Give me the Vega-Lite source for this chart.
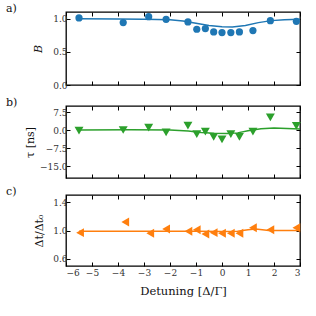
{
  "$schema": "https://vega.github.io/schema/vega-lite/v6.json",
  "padding": {"left": 5, "top": 1, "right": 17, "bottom": 0},
  "spacing": 4,
  "config": {
    "view": {"stroke": "black", "strokeWidth": 1.3},
    "font": "DejaVu Serif",
    "axis": {"labelFont": "DejaVu Serif", "titleFont": "DejaVu Serif", "labelFontSize": 9, "titleFontSize": 11, "titleFontWeight": "normal", "labelColor": "#333", "titleColor": "#111", "tickColor": "black", "tickSize": -4, "tickWidth": 1, "grid": false, "domain": false, "labelPadding": 3},
    "title": {"font": "DejaVu Serif", "fontSize": 11, "fontWeight": "normal", "anchor": "start", "frame": "group", "dx": -60, "dy": 0, "offset": -2, "color": "#111"}
  },
  "datasets": {
    "ptsA": [{"x": -5.5, "y": 1.01}, {"x": -3.8, "y": 0.94}, {"x": -2.82, "y": 1.03}, {"x": -2.15, "y": 0.99}, {"x": -1.31, "y": 0.95}, {"x": -0.97, "y": 0.84}, {"x": -0.64, "y": 0.85}, {"x": -0.32, "y": 0.8}, {"x": 0.0, "y": 0.79}, {"x": 0.34, "y": 0.79}, {"x": 0.67, "y": 0.8}, {"x": 1.19, "y": 0.82}, {"x": 1.86, "y": 0.97}, {"x": 2.86, "y": 0.96}],
    "fitA": [{"x": -5.5, "y": 1.0}, {"x": -4, "y": 0.995}, {"x": -3, "y": 0.99}, {"x": -2, "y": 0.985}, {"x": -1.5, "y": 0.965}, {"x": -1.0, "y": 0.93}, {"x": -0.5, "y": 0.895}, {"x": 0.0, "y": 0.877}, {"x": 0.4, "y": 0.874}, {"x": 0.9, "y": 0.895}, {"x": 1.4, "y": 0.94}, {"x": 1.9, "y": 0.97}, {"x": 2.4, "y": 0.985}, {"x": 3.0, "y": 0.99}],
    "ptsB": [{"x": -5.5, "y": -0.3}, {"x": -3.8, "y": 0.0}, {"x": -2.82, "y": 1.0}, {"x": -2.15, "y": -1.0}, {"x": -1.31, "y": 1.8}, {"x": -0.97, "y": -1.7}, {"x": -0.64, "y": -0.7}, {"x": -0.32, "y": -2.9}, {"x": 0.0, "y": -3.9}, {"x": 0.34, "y": -1.7}, {"x": 0.67, "y": -2.9}, {"x": 1.19, "y": -0.7}, {"x": 1.86, "y": 5.3}, {"x": 2.86, "y": 1.7}],
    "fitB": [{"x": -5.5, "y": 0.0}, {"x": -3.5, "y": 0.1}, {"x": -2.0, "y": 0.0}, {"x": -1.3, "y": -0.4}, {"x": -0.8, "y": -1.0}, {"x": -0.3, "y": -1.4}, {"x": 0.2, "y": -1.5}, {"x": 0.6, "y": -1.2}, {"x": 1.0, "y": -0.3}, {"x": 1.5, "y": 0.5}, {"x": 2.0, "y": 0.8}, {"x": 2.5, "y": 0.6}, {"x": 3.0, "y": 0.4}],
    "ptsC": [{"x": -5.46, "y": 0.97}, {"x": -3.72, "y": 1.12}, {"x": -2.76, "y": 0.96}, {"x": -2.15, "y": 1.02}, {"x": -1.29, "y": 0.99}, {"x": -0.97, "y": 1.01}, {"x": -0.64, "y": 0.95}, {"x": -0.32, "y": 0.97}, {"x": 0.0, "y": 0.96}, {"x": 0.34, "y": 0.96}, {"x": 0.67, "y": 0.96}, {"x": 1.19, "y": 1.04}, {"x": 1.86, "y": 1.01}, {"x": 2.86, "y": 1.04}],
    "fitC": [{"x": -5.5, "y": 0.99}, {"x": -3.0, "y": 0.99}, {"x": -1.0, "y": 0.99}, {"x": 0.0, "y": 0.985}, {"x": 0.6, "y": 0.99}, {"x": 1.0, "y": 1.01}, {"x": 1.3, "y": 1.02}, {"x": 1.8, "y": 1.0}, {"x": 3.0, "y": 1.0}]
  },
  "vconcat": [
    {
      "width": 234, "height": 73,
      "title": {"text": "a)"},
      "layer": [
        {"data": {"name": "fitA"}, "mark": {"type": "line", "color": "#1f77b4", "strokeWidth": 1.5},
         "encoding": {
           "x": {"field": "x", "type": "quantitative", "scale": {"domain": [-6, 3]}, "axis": {"orient": "bottom", "values": [-6, -5, -4, -3, -2, -1, 0, 1, 2, 3], "labels": false, "title": null}},
           "y": {"field": "y", "type": "quantitative", "scale": {"domain": [0, 1.1]}, "axis": {"orient": "left", "values": [0, 0.5, 1.0], "format": ".1f", "title": "B", "titleFontStyle": "italic", "titlePadding": 9}}}},
        {"data": {"name": "ptsA"}, "mark": {"type": "point", "shape": "circle", "filled": true, "size": 52, "color": "#1f77b4", "opacity": 1},
         "encoding": {
           "x": {"field": "x", "type": "quantitative", "axis": {"orient": "top", "values": [-6, -5, -4, -3, -2, -1, 0, 1, 2, 3], "labels": false, "title": null}},
           "y": {"field": "y", "type": "quantitative", "axis": {"orient": "right", "values": [0, 0.5, 1.0], "labels": false, "title": null}}}}
      ],
      "resolve": {"axis": {"x": "independent", "y": "independent"}}
    },
    {
      "width": 234, "height": 72,
      "title": {"text": "b)"},
      "layer": [
        {"data": {"name": "fitB"}, "mark": {"type": "line", "color": "#2ca02c", "strokeWidth": 1.5},
         "encoding": {
           "x": {"field": "x", "type": "quantitative", "scale": {"domain": [-6, 3]}, "axis": {"orient": "bottom", "values": [-6, -5, -4, -3, -2, -1, 0, 1, 2, 3], "labels": false, "title": null}},
           "y": {"field": "y", "type": "quantitative", "scale": {"domain": [-20, 10]}, "axis": {"orient": "left", "values": [-15, -7.5, 0, 7.5], "format": ".1f", "title": "τ [ns]", "titlePadding": 4}}}},
        {"data": {"name": "ptsB"}, "mark": {"type": "point", "shape": "triangle-down", "filled": true, "size": 80, "color": "#2ca02c", "opacity": 1},
         "encoding": {
           "x": {"field": "x", "type": "quantitative", "axis": {"orient": "top", "values": [-6, -5, -4, -3, -2, -1, 0, 1, 2, 3], "labels": false, "title": null}},
           "y": {"field": "y", "type": "quantitative", "axis": {"orient": "right", "values": [-15, -7.5, 0, 7.5], "labels": false, "title": null}}}}
      ],
      "resolve": {"axis": {"x": "independent", "y": "independent"}}
    },
    {
      "width": 234, "height": 71,
      "title": {"text": "c)"},
      "layer": [
        {"data": {"name": "fitC"}, "mark": {"type": "line", "color": "#ff7f0e", "strokeWidth": 1.5},
         "encoding": {
           "x": {"field": "x", "type": "quantitative", "scale": {"domain": [-6, 3]}, "axis": {"orient": "bottom", "values": [-6, -5, -4, -3, -2, -1, 0, 1, 2, 3], "format": "d", "title": "Detuning [Δ/Γ]", "titleFontSize": 11.5, "labelPadding": 6, "titlePadding": 8}},
           "y": {"field": "y", "type": "quantitative", "scale": {"domain": [0.5, 1.5]}, "axis": {"orient": "left", "values": [0.6, 1.0, 1.4], "format": ".1f", "title": "Δt/Δt₀", "titlePadding": 8}}}},
        {"data": {"name": "ptsC"}, "mark": {"type": "point", "shape": "triangle-left", "filled": true, "size": 80, "color": "#ff7f0e", "opacity": 1},
         "encoding": {
           "x": {"field": "x", "type": "quantitative", "axis": {"orient": "top", "values": [-6, -5, -4, -3, -2, -1, 0, 1, 2, 3], "labels": false, "title": null}},
           "y": {"field": "y", "type": "quantitative", "axis": {"orient": "right", "values": [0.6, 1.0, 1.4], "labels": false, "title": null}}}}
      ],
      "resolve": {"axis": {"x": "independent", "y": "independent"}}
    }
  ]
}
